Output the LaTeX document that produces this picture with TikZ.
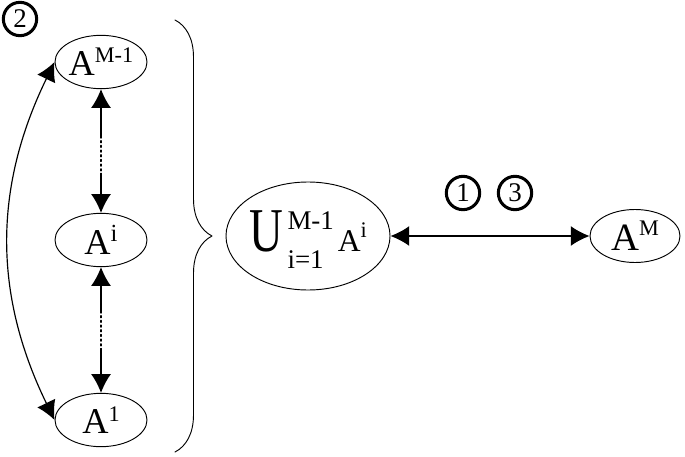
\documentclass[tikz,border=0pt]{standalone}
\usepackage{fontspec}
\setmainfont{Liberation Serif}
\usepackage{graphicx}
\usetikzlibrary{arrows.meta}
\usetikzlibrary{shapes.geometric}
\usetikzlibrary{decorations.pathreplacing}

% A with a raised index: size of A, index, size of index, raise
\newcommand{\Aidx}[4]{{\fontsize{#1}{#1}\selectfont A}\raisebox{#4pt}{\fontsize{#3}{#3}\selectfont #2}}

\begin{document}
\begin{tikzpicture}[x=0.03cm,y=-0.03cm,line cap=round,line join=round,>={Latex[length=16pt,width=17pt]},
    set/.style={draw,ellipse,line width=0.8pt,inner sep=0pt,minimum width=2.76cm,minimum height=1.6cm},
    num/.style={draw,circle,line width=2.6pt,inner sep=0pt,minimum size=1.0cm,font=\fontsize{23}{23}\selectfont},
    link/.style={line width=1pt}]
        \useasboundingbox (0,0) rectangle (685,456);
        % the sets
        \node[set] (am1) at (101,62) {\Aidx{31}{M-1}{19}{11}};
        \node[set] (ai) at (101,240) {\Aidx{31}{i}{21}{11}};
        \node[set] (a1) at (101,420) {\Aidx{31}{1}{19}{10.5}};
        \node[set,minimum width=4.92cm,minimum height=3.24cm] (un) at (308,236) {\smash{\makebox[0pt]{\raisebox{-13.6pt}{%
            \scalebox{1.05}[1.4]{\fontsize{38}{38}\selectfont U}\hspace{4pt}%
            \rlap{\raisebox{19pt}{\fontsize{23}{23}\selectfont M-1}}%
            \makebox[37pt][l]{\raisebox{-14pt}{\fontsize{23}{23}\selectfont i=1}}\hspace{6pt}%
            \Aidx{27}{i}{19}{12.5}}}}};
        \node[set,minimum width=2.7cm,minimum height=1.59cm] (am) at (635,236) {\Aidx{33}{M}{19}{12.5}};
        % step numbers
        \node[num] (n2) at (20,19) {2};
        \node[num] (n1) at (463,193) {1};
        \node[num] (n3) at (515,193) {3};
        % links between the sets
        \path (am1.south) -- (ai.north) coordinate[pos=0.38] (u1) coordinate[pos=0.68] (u2);
        \draw[link,<-] (am1.south) -- (u1);
        \draw[link,dash pattern=on 1.5pt off 2.5pt,line width=1.4pt] (u1) -- (u2);
        \draw[link,->] (u2) -- (ai.north);
        \path (ai.south) -- (a1.north) coordinate[pos=0.35] (v1) coordinate[pos=0.65] (v2);
        \draw[link,<-] (ai.south) -- (v1);
        \draw[link,dash pattern=on 1.5pt off 2.5pt,line width=1.4pt] (v1) -- (v2);
        \draw[link,->] (v2) -- (a1.north);
        \draw[link,<->] (am1.west) to[bend right=26] (a1.west);
        \draw[link,<->] (un.east) -- (am.west);
        % brace
        \coordinate (btop) at (175,20);
        \coordinate (bbot) at (175,452);
        \draw[decorate,decoration={brace,amplitude=1.11cm},line width=0.8pt] (btop) -- (bbot);
\end{tikzpicture}
\end{document}
